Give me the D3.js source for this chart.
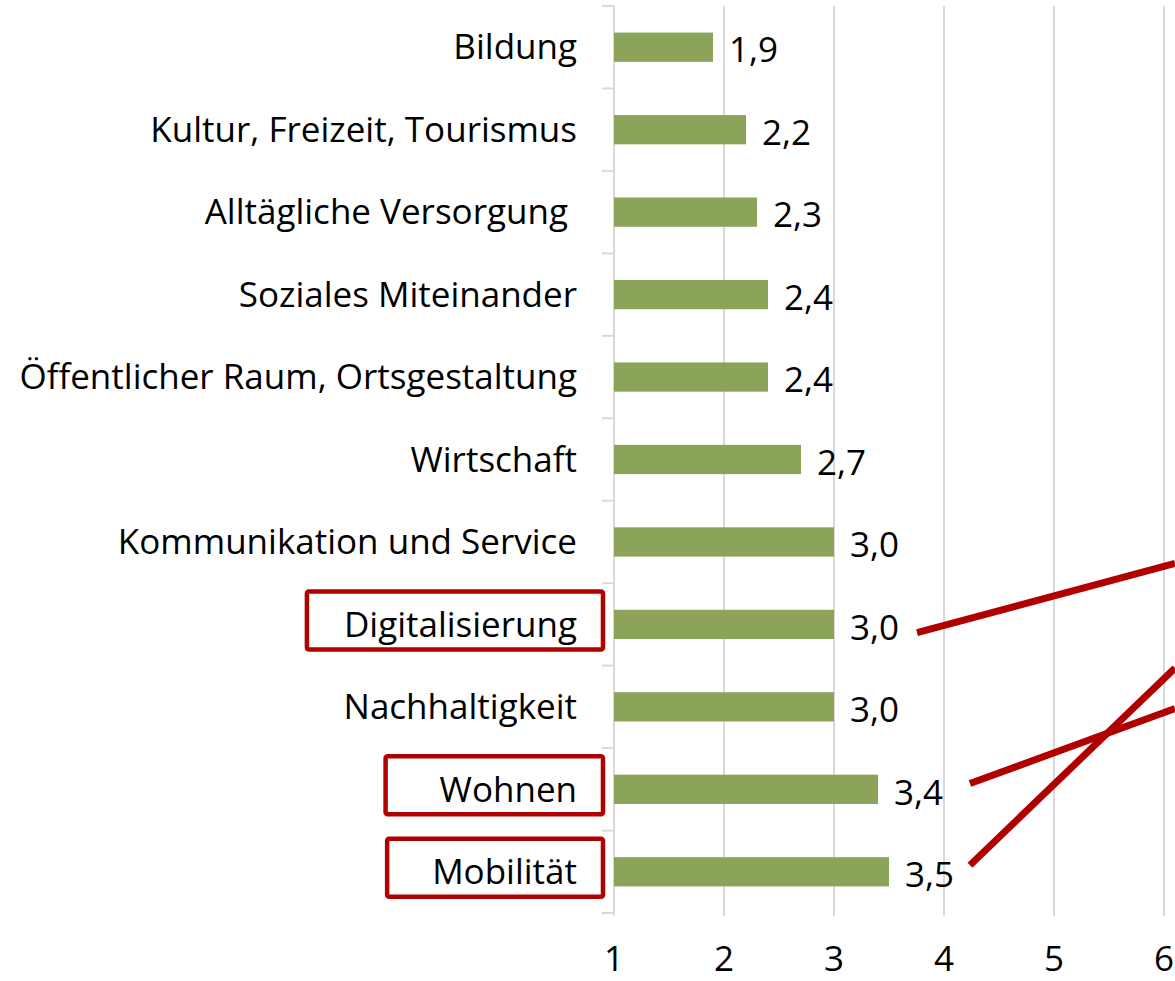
<!DOCTYPE html>
<html>
<head>
<meta charset="utf-8">
<script src="https://cdn.jsdelivr.net/npm/d3@7"></script>
<style>
  body { margin: 0; background: #fff; }
  text { font-family: "Open Sans", "Noto Sans", sans-serif; fill: #000; }
</style>
</head>
<body>
<div id="chart"></div>
<script>
// categories top to bottom and their mean values
const categories = ["Bildung", "Kultur, Freizeit, Tourismus", "Alltägliche Versorgung ", "Soziales Miteinander",
  "Öffentlicher Raum, Ortsgestaltung", "Wirtschaft", "Kommunikation und Service", "Digitalisierung",
  "Nachhaltigkeit", "Wohnen", "Mobilität"];
const values = [1.9, 2.2, 2.3, 2.4, 2.4, 2.7, 3.0, 3.0, 3.0, 3.4, 3.5];
const xTicks = [1, 2, 3, 4, 5, 6];

// highlighted labels (red boxes) and the red connector lines, in data units
const highlighted = ["Digitalisierung", "Wohnen", "Mobilität"];
const boxPad = [37, 54, 45];
// [x start, row start, x end, row end] (row = position in band steps from the top)
const connectors = [
  [3.755, 7.6, 6.1, 6.76],
  [4.236, 9.43, 6.1, 8.52],
  [4.236, 10.42, 6.1, 8.03]
];

const width = 1175, height = 981;
const fontSize = 35;
const red = "#b00000";

const svg = d3.select("#chart").append("svg")
  .attr("width", width)
  .attr("height", height);

//scales
const x = d3.scaleLinear().domain([1, 6]).range([614, 1164]);
const y = d3.scaleBand().domain(categories).range([6, 913]).paddingInner(0.645).paddingOuter(0.3225);
const step = y.step();
const y0 = 6;
const rowY = r => y0 + step * r;

//gridlines
svg.append("g")
  .selectAll("line")
  .data(xTicks.slice(1))
  .join("line")
  .attr("x1", d => x(d)).attr("x2", d => x(d))
  .attr("y1", 6).attr("y2", 916)
  .attr("stroke", "#d9d9d9")
  .attr("stroke-width", 2);

//y axis line with ticks
const yAxis = svg.append("g");
yAxis.append("line")
  .attr("x1", x(1)).attr("x2", x(1))
  .attr("y1", 6).attr("y2", 916)
  .attr("stroke", "#d9d9d9").attr("stroke-width", 2);
yAxis.selectAll(".tk")
  .data(d3.range(categories.length + 1))
  .join("line")
  .attr("x1", x(1) - 12).attr("x2", x(1))
  .attr("y1", d => y0 + step * d).attr("y2", d => y0 + step * d)
  .attr("stroke", "#d9d9d9").attr("stroke-width", 2);

//category labels
const labels = svg.append("g")
  .selectAll("text")
  .data(categories)
  .join("text")
  .attr("x", x(1) - 37)
  .attr("y", d => y(d) + y.bandwidth() / 2)
  .attr("dy", "0.35em")
  .attr("text-anchor", "end")
  .style("white-space", "pre")
  .attr("font-size", fontSize)
  .text(d => d);

//bars
svg.append("g")
  .selectAll("rect")
  .data(categories)
  .join("rect")
  .attr("x", x(1))
  .attr("y", d => y(d))
  .attr("width", (d, i) => x(values[i]) - x(1))
  .attr("height", y.bandwidth())
  .attr("fill", "#8ba45a");

//value labels
svg.append("g")
  .selectAll("text")
  .data(categories)
  .join("text")
  .attr("x", (d, i) => x(values[i]) + 16)
  .attr("y", d => y(d) + y.bandwidth() / 2 + 3)
  .attr("dy", "0.35em")
  .attr("font-size", fontSize)
  .text((d, i) => values[i].toFixed(1).replace(".", ","));

//x tick labels
svg.append("g")
  .selectAll("text")
  .data(xTicks)
  .join("text")
  .attr("x", d => x(d))
  .attr("y", 971)
  .attr("text-anchor", "middle")
  .attr("font-size", fontSize)
  .text(d => d);

//red boxes around highlighted labels
labels.filter(d => highlighted.includes(d)).each(function(d) {
  const bb = this.getBBox();
  const pad = boxPad[highlighted.indexOf(d)];
  const cy = y(d) + y.bandwidth() / 2 - 4;
  svg.append("rect")
    .attr("x", bb.x - pad)
    .attr("y", cy - 29)
    .attr("width", 603 - (bb.x - pad))
    .attr("height", 58)
    .attr("rx", 2)
    .attr("fill", "none")
    .attr("stroke", red)
    .attr("stroke-width", 4.5);
});

//connector lines
svg.append("g")
  .selectAll("line")
  .data(connectors)
  .join("line")
  .attr("x1", d => x(d[0])).attr("y1", d => rowY(d[1]))
  .attr("x2", d => x(d[2])).attr("y2", d => rowY(d[3]))
  .attr("stroke", red)
  .attr("stroke-width", 7);
</script>
</body>
</html>
